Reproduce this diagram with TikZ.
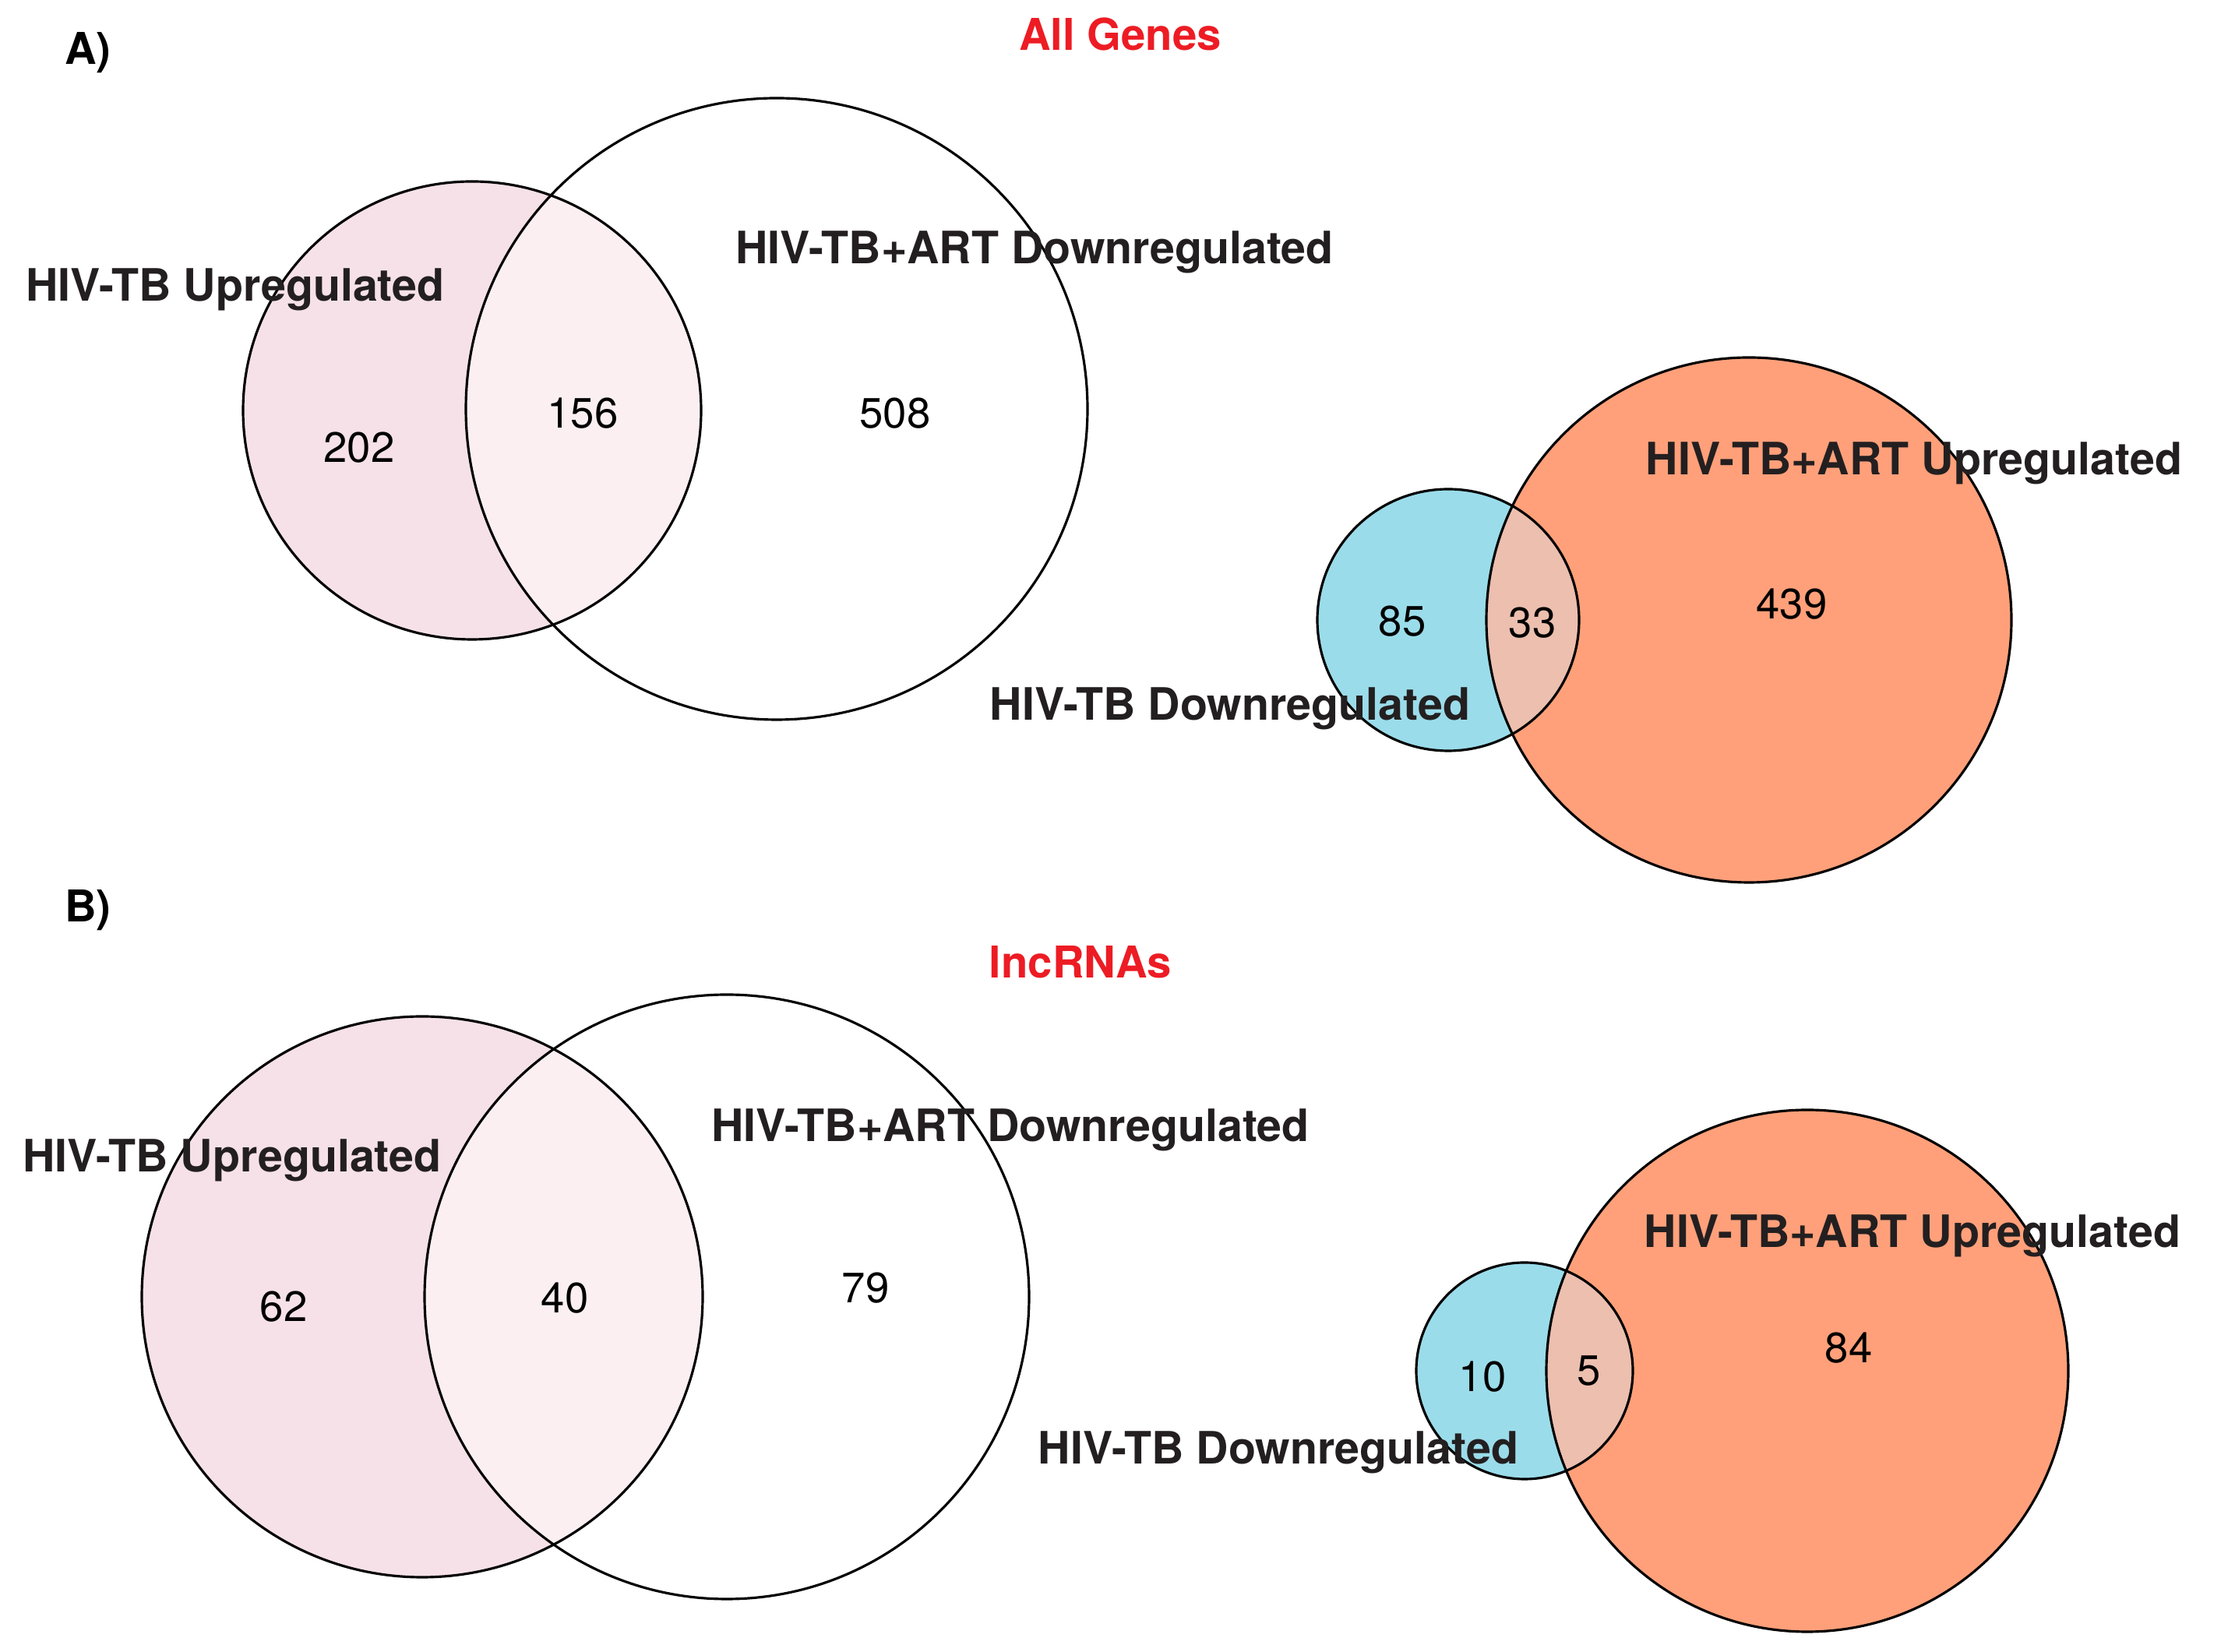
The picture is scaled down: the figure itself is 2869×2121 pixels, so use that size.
\documentclass[tikz,border=0pt]{standalone}
\usepackage{fontspec}
\setmainfont{TeX Gyre Heros}
\definecolor{pinkset}{RGB}{245,225,231}
\definecolor{pinkmix}{RGB}{251,239,242}
\definecolor{blueset}{RGB}{155,220,234}
\definecolor{orangeset}{RGB}{255,160,122}
\definecolor{orangemix}{RGB}{236,191,175}
\definecolor{titlered}{RGB}{237,28,36}
\definecolor{namegray}{RGB}{35,31,32}
\begin{document}
\begin{tikzpicture}[%
            x=0.01cm, y=0.01cm,
            setline/.style={draw=black, line width=0.9pt},
            setname/.style={font=\fontsize{16.3}{19}\selectfont\bfseries, text=namegray, inner sep=0pt, yshift=-0.06cm},
            setcount/.style={font=\fontsize{15.5}{18}\selectfont, inner sep=0pt},
            paneltag/.style={font=\fontsize{16}{19}\selectfont\bfseries, inner sep=0pt},
            paneltitle/.style={font=\fontsize{16}{19}\selectfont\bfseries, text=titlered, inner sep=0pt}
    ]
        \useasboundingbox (0,0) rectangle (2869,2121);

        % A) all genes, up / down
        \fill [pinkset] (606,1594) circle (294);
        \begin{scope}
            \clip (606,1594) circle (294);
            \fill [pinkmix] (997,1596) circle (399);
        \end{scope}
        \draw [setline] (606,1594) circle (294);
        \draw [setline] (997,1596) circle (399);

        % A) all genes, down / up
        \fill [blueset] (1859,1325) circle (168);
        \fill [orangeset] (2245,1325) circle (337);
        \begin{scope}
            \clip (1859,1325) circle (168);
            \fill [orangemix] (2245,1325) circle (337);
        \end{scope}
        \draw [setline] (1859,1325) circle (168);
        \draw [setline] (2245,1325) circle (337);

        % B) lncRNAs, up / down
        \fill [pinkset] (542,456) circle (360);
        \begin{scope}
            \clip (542,456) circle (360);
            \fill [pinkmix] (933,456) circle (388);
        \end{scope}
        \draw [setline] (542,456) circle (360);
        \draw [setline] (933,456) circle (388);

        % B) lncRNAs, down / up
        \fill [blueset] (1957,361) circle (139);
        \fill [orangeset] (2320,361) circle (335);
        \begin{scope}
            \clip (1957,361) circle (139);
            \fill [orangemix] (2320,361) circle (335);
        \end{scope}
        \draw [setline] (1957,361) circle (139);
        \draw [setline] (2320,361) circle (335);

        % panel A texts
        \node [paneltag] (tagA) at (113,2053) {A)};
        \node [paneltitle] (titleA) at (1438,2077) {All Genes};
        \node [setname] (upA) at (302,1755) {HIV-TB Upregulated};
        \node [setname] (artdownA) at (1328,1803) {HIV-TB+ART Downregulated};
        \node [setcount] (onlyupA) at (461,1546) {202};
        \node [setcount] (bothupA) at (748,1590) {156};
        \node [setcount] (onlyartdownA) at (1149,1590) {508};
        \node [setname] (artupA) at (2457,1532) {HIV-TB+ART Upregulated};
        \node [setname] (downA) at (1579,1217) {HIV-TB Downregulated};
        \node [setcount] (onlydownA) at (1800,1323) {85};
        \node [setcount] (bothdownA) at (1967,1321) {33};
        \node [setcount] (onlyartupA) at (2300,1345) {439};

        % panel B texts
        \node [paneltag] (tagB) at (113,952) {B)};
        \node [paneltitle] (titleB) at (1387,886) {lncRNAs};
        \node [setname] (upB) at (298,637) {HIV-TB Upregulated};
        \node [setname] (artdownB) at (1297,676) {HIV-TB+ART Downregulated};
        \node [setcount] (onlyupB) at (364,443) {62};
        \node [setcount] (bothupB) at (725,454) {40};
        \node [setcount] (onlyartdownB) at (1111,467) {79};
        \node [setname] (artupB) at (2455,540) {HIV-TB+ART Upregulated};
        \node [setname] (downB) at (1641,262) {HIV-TB Downregulated};
        \node [setcount] (onlydownB) at (1903,353) {10};
        \node [setcount] (bothdownB) at (2040,361) {5};
        \node [setcount] (onlyartupB) at (2373,390) {84};
    \end{tikzpicture}
\end{document}
